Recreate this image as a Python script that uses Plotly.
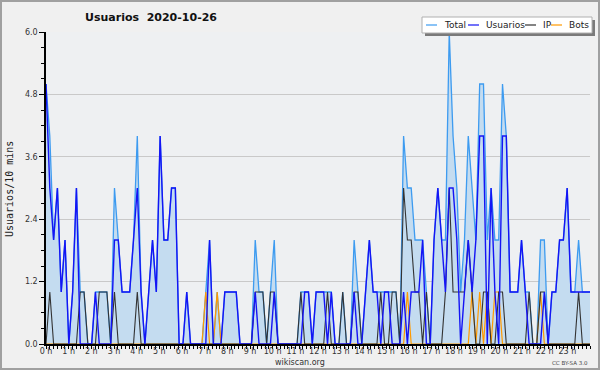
import plotly.graph_objects as go

# 10-minute slots over the day (144 slots)
hours = list(range(24))
hour_labels = [f"{h} h" for h in hours]

usuarios = [
    5, 3, 2, 3, 1, 2, 0, 1, 3, 0, 0, 0,
    0, 1, 0, 0, 0, 0, 2, 2, 1, 1, 1, 2,
    3, 1, 0, 1, 2, 1, 4, 2, 2, 3, 3, 0,
    0, 1, 0, 0, 0, 0, 0, 2, 0, 0, 0, 1,
    1, 1, 1, 0, 0, 0, 0, 1, 0, 0, 0, 0,
    1, 0, 0, 0, 0, 0, 0, 0, 1, 1, 0, 1,
    1, 1, 0, 1, 0, 0, 0, 0, 0, 1, 0, 0,
    1, 2, 1, 1, 0, 1, 1, 0, 0, 0, 1, 0,
    1, 1, 1, 2, 0, 0, 2, 3, 2, 1, 3, 3,
    2, 0, 1, 2, 1, 2, 4, 4, 0, 3, 1, 0,
    4, 4, 1, 1, 1, 2, 1, 0, 0, 0, 0, 1,
    0, 1, 1, 2, 2, 3, 1, 1, 1, 1, 1, 1,
]
ip = [
    0, 1, 0, 0, 0, 0, 0, 0, 0, 1, 1, 0,
    0, 0, 1, 1, 1, 0, 1, 0, 0, 0, 0, 0,
    1, 0, 0, 0, 0, 0, 0, 0, 0, 0, 0, 0,
    0, 0, 0, 0, 0, 0, 0, 0, 0, 0, 0, 0,
    0, 0, 0, 0, 0, 0, 0, 1, 1, 1, 0, 1,
    1, 0, 0, 0, 0, 0, 0, 1, 0, 0, 0, 0,
    0, 0, 1, 0, 0, 0, 1, 0, 0, 1, 1, 0,
    0, 0, 0, 0, 1, 0, 0, 1, 1, 0, 3, 2,
    2, 1, 1, 0, 1, 0, 0, 0, 0, 1, 3, 1,
    1, 1, 1, 2, 1, 0, 0, 1, 1, 0, 0, 1,
    1, 0, 0, 0, 0, 0, 0, 1, 0, 0, 1, 1,
    0, 0, 0, 0, 0, 0, 0, 0, 1, 0, 0, 0,
]
bots = [
    0, 0, 0, 0, 0, 0, 0, 0, 0, 0, 0, 0,
    0, 0, 0, 0, 0, 0, 0, 0, 0, 0, 0, 0,
    0, 0, 0, 0, 0, 0, 0, 0, 0, 0, 0, 0,
    0, 0, 0, 0, 0, 0, 1, 0, 0, 1, 0, 0,
    0, 0, 0, 0, 0, 0, 0, 0, 0, 0, 0, 0,
    0, 0, 0, 0, 0, 0, 0, 0, 0, 0, 0, 0,
    0, 0, 0, 0, 0, 0, 0, 0, 0, 0, 0, 0,
    0, 0, 0, 0, 0, 0, 0, 0, 0, 0, 0, 1,
    0, 0, 0, 0, 0, 0, 0, 0, 0, 0, 0, 0,
    0, 0, 0, 0, 1, 0, 1, 0, 1, 0, 1, 1,
    0, 0, 0, 0, 0, 0, 0, 0, 0, 0, 1, 0,
    0, 0, 0, 0, 0, 0, 0, 0, 0, 0, 0, 0,
]
total = [
    5, 4, 2, 3, 1, 2, 0, 1, 3, 1, 1, 0,
    0, 1, 1, 1, 1, 0, 3, 2, 1, 1, 1, 2,
    4, 1, 0, 1, 2, 1, 4, 2, 2, 3, 3, 0,
    0, 1, 0, 0, 0, 0, 1, 2, 0, 1, 0, 1,
    1, 1, 1, 0, 0, 0, 0, 2, 1, 1, 0, 1,
    2, 0, 0, 0, 0, 0, 0, 1, 1, 1, 0, 1,
    1, 1, 1, 1, 0, 0, 1, 0, 0, 2, 1, 0,
    1, 2, 1, 1, 1, 1, 1, 1, 1, 0, 4, 3,
    3, 2, 2, 2, 1, 0, 2, 3, 2, 2, 6, 4,
    3, 1, 2, 4, 3, 2, 5, 5, 2, 3, 2, 2,
    5, 4, 1, 1, 1, 2, 1, 1, 0, 0, 2, 2,
    0, 1, 1, 2, 2, 3, 1, 1, 2, 1, 1, 1,
]

n = len(total)
# slots are spread across the full 0-24 h axis width
xs = [k * 24 / (n - 1) for k in range(n)]

C_TOTAL = "#3d9bf0"
C_FILL = "#c4dcf0"
C_USR = "#1414f5"
C_IP = "#333333"
C_BOT = "#ff9a00"

fig = go.Figure()
fig.add_trace(go.Scatter(x=xs, y=total, mode="lines", name="Total",
                         line=dict(color=C_TOTAL, width=1.3),
                         fill="tozeroy", fillcolor=C_FILL))
fig.add_trace(go.Scatter(x=xs, y=bots, mode="lines", name="Bots",
                         line=dict(color=C_BOT, width=1.2)))
fig.add_trace(go.Scatter(x=xs, y=ip, mode="lines", name="IP",
                         line=dict(color=C_IP, width=1.1)))
fig.add_trace(go.Scatter(x=xs, y=usuarios, mode="lines", name="Usuarios",
                         line=dict(color=C_USR, width=1.4)))

L, R, T, B = 46, 10, 32, 26
W, H = 600, 370
PW, PH = W - L - R, H - T - B


def px(x):
    return (x - L) / PW


def py(y):
    return (H - B - y) / PH


shapes = []
annotations = []

# outer image border
shapes.append(dict(type="rect", xref="paper", yref="paper",
                   x0=px(1), x1=px(599), y0=py(1), y1=py(369),
                   line=dict(color="#a0a0a0", width=2), layer="above"))

# legend box with shadow
shapes.append(dict(type="rect", xref="paper", yref="paper",
                   x0=px(425), x1=px(595), y0=py(20), y1=py(36),
                   fillcolor="#7a7a7a", line=dict(width=0), layer="above"))
shapes.append(dict(type="rect", xref="paper", yref="paper",
                   x0=px(422), x1=px(592), y0=py(17), y1=py(33),
                   fillcolor="#ffffff", line=dict(color="#b0b0b0", width=1),
                   layer="above"))

legend_items = [
    ("Total", C_TOTAL, 426, 442),
    ("Usuarios", C_USR, 468, 484),
    ("IP", C_IP, 525, 541),
    ("Bots", C_BOT, 551, 567),
]
for name, col, lx, tx in legend_items:
    shapes.append(dict(type="line", xref="paper", yref="paper",
                       x0=px(lx), x1=px(lx + 11), y0=py(25), y1=py(25),
                       line=dict(color=col, width=1.2), layer="above"))
    annotations.append(dict(text=name, xref="paper", yref="paper",
                            x=px(tx), y=py(25), xanchor="left", yanchor="middle",
                            showarrow=False,
                            font=dict(family="DejaVu Sans", size=9, color="#222")))

annotations.append(dict(text="Usuarios/10 mins", xref="paper", yref="paper",
                        x=px(9), y=py(189), textangle=-90, showarrow=False,
                        xanchor="center", yanchor="middle",
                        font=dict(family="DejaVu Sans Mono", size=10, color="#222")))
annotations.append(dict(text="wikiscan.org", xref="paper", yref="paper",
                        x=px(300), y=py(362), showarrow=False,
                        xanchor="center", yanchor="middle",
                        font=dict(family="DejaVu Sans", size=8, color="#333")))
annotations.append(dict(text="CC BY-SA 3.0", xref="paper", yref="paper",
                        x=px(590), y=py(363), showarrow=False,
                        xanchor="right", yanchor="middle",
                        font=dict(family="DejaVu Sans", size=5.5, color="#444")))

fig.update_layout(
    width=W, height=H,
    margin=dict(l=L, r=R, t=T, b=B, pad=0),
    paper_bgcolor="#f0f0f0",
    plot_bgcolor="#eef0f2",
    showlegend=False,
    title=dict(text="<b>Usuarios  2020-10-26</b>", x=151 / W, xanchor="center",
               y=1 - 17 / H, yanchor="middle", xref="container", yref="container",
               font=dict(family="DejaVu Sans", size=11, color="#111")),
    shapes=shapes,
    annotations=annotations,
)

fig.update_xaxes(
    range=[0, 24], tickmode="array", tickvals=hours, ticktext=hour_labels,
    showgrid=False, zeroline=False,
    showline=True, linecolor="#000", linewidth=1.5,
    ticks="outside", ticklen=3, tickcolor="#000", tickwidth=1,
    ticklabelstandoff=-4,
    tickfont=dict(family="DejaVu Sans", size=8, color="#333"),
    minor=dict(dtick=1 / 6, tick0=0, ticks="outside", ticklen=3,
               tickcolor="#000", tickwidth=1, showgrid=False),
)
fig.update_yaxes(
    range=[0, 6], tickmode="linear", tick0=0, dtick=1.2, tickformat=".1f",
    showgrid=True, gridcolor="#c9c9c9", gridwidth=1, zeroline=False,
    showline=True, linecolor="#000", linewidth=1.5,
    ticks="outside", ticklen=5, tickcolor="#000", tickwidth=1,
    tickfont=dict(family="DejaVu Sans", size=8, color="#333"),
    minor=dict(dtick=0.3, tick0=0, ticks="outside", ticklen=3,
               tickcolor="#000", tickwidth=1, showgrid=False),
)

fig.write_html("out.html")
